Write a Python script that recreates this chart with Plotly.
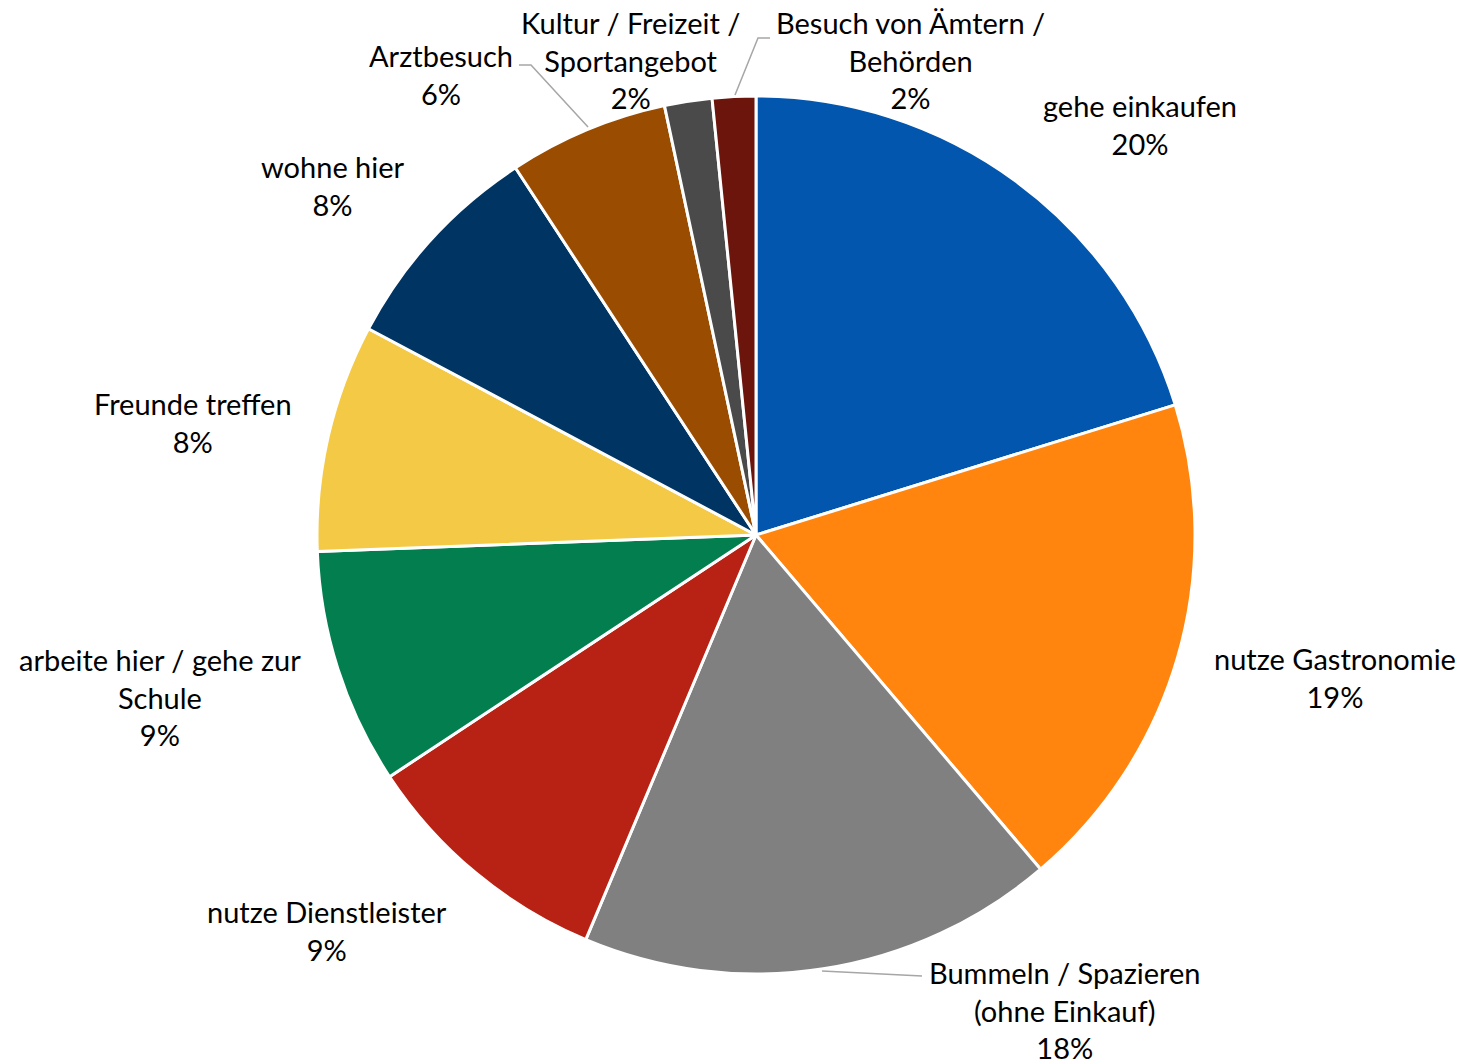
import plotly.graph_objects as go

# ---- data ----
categories = [
    "gehe einkaufen",
    "nutze Gastronomie",
    "Bummeln / Spazieren<br>(ohne Einkauf)",
    "nutze Dienstleister",
    "arbeite hier / gehe zur<br>Schule",
    "Freunde treffen",
    "wohne hier",
    "Arztbesuch",
    "Kultur / Freizeit /<br>Sportangebot",
    "Besuch von Ämtern /<br>Behörden",
]
values = [20.25, 18.6, 17.6, 9.4, 8.7, 8.4, 8.0, 5.9, 1.75, 1.6]
colors = ["#0256AE", "#FF850F", "#808080", "#B72214", "#037E4F",
          "#F4C945", "#003463", "#9A4C00", "#4A4A4A", "#6B150D"]

# ---- layout helpers ----
W, H = 1465, 1064
cx, cy, R = 756, 535, 439

def px(x):
    return x / W

def py(y):
    return 1 - y / H

# label centres (pixels) for the outside labels
label_pos = [(1140, 125), (1335, 677), (1065, 1010), (327, 930), (160, 697),
             (193, 423), (333, 185), (441, 75), (630, 60), (910, 60)]

# leader lines (pixels)
leaders = [
    [(822, 971), (922, 976)],
    [(519, 65), (531, 65), (588, 127)],
    [(735, 95), (758, 38), (770, 38)],
]

total = sum(values)

fig = go.Figure(go.Pie(
    labels=categories,
    values=values,
    marker=dict(colors=colors, line=dict(color="white", width=3)),
    sort=False,
    direction="clockwise",
    rotation=0,
    textinfo="none",
    hoverinfo="none",
    showlegend=False,
    domain=dict(x=[px(cx - 500), px(cx + 500)], y=[py(cy + R), py(cy - R)]),
))

annotations = []
for lab, v, (x, y) in zip(categories, values, label_pos):
    annotations.append(dict(
        x=px(x), y=py(y), xref="paper", yref="paper",
        text=f"{lab}<br>{round(v / total * 100):.0f}%",
        showarrow=False, xanchor="center", yanchor="middle", align="center",
        font=dict(family="Lato, 'Open Sans', sans-serif", size=29, color="#000000"),
    ))

shapes = []
for pts in leaders:
    path = "M " + " L ".join(f"{px(x)},{py(y)}" for x, y in pts)
    shapes.append(dict(type="path", path=path, xref="paper", yref="paper",
                       line=dict(color="#A6A6A6", width=1.5)))

fig.update_layout(
    width=W, height=H,
    margin=dict(l=0, r=0, t=0, b=0),
    paper_bgcolor="white", plot_bgcolor="white",
    annotations=annotations,
    shapes=shapes,
)

fig.write_html("out.html")
